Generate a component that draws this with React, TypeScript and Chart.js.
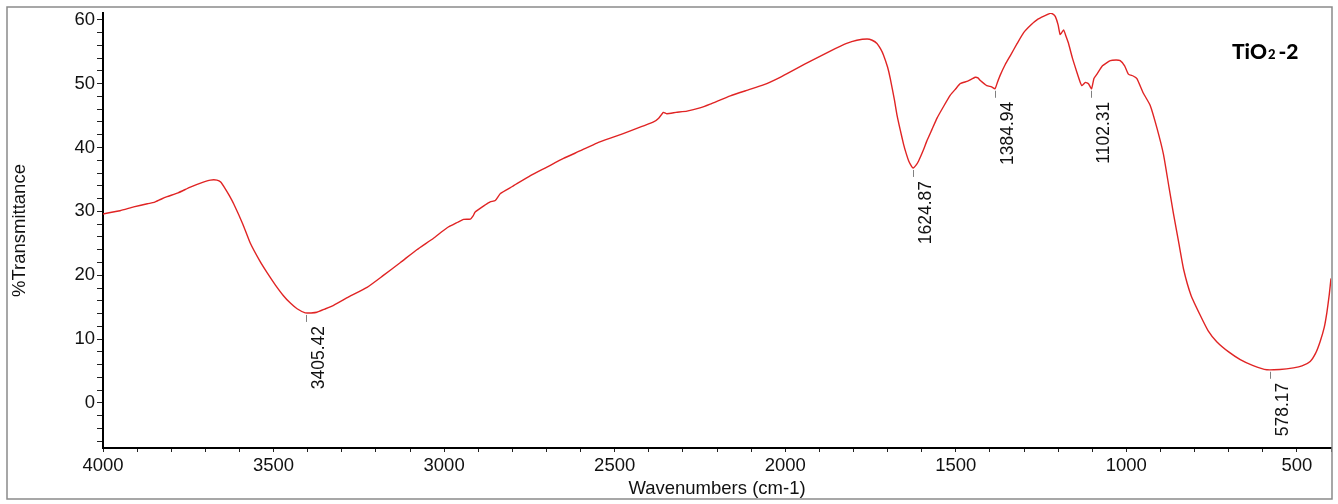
import React, { useEffect, useRef } from "react";
import { Chart, registerables } from "chart.js";

Chart.register(...registerables);

// Wavenumber (cm-1), high to low
const wavenumbers = [
  4000, 3950, 3910, 3870, 3850, 3830, 3812, 3780, 3744, 3710, 3685, 3666, 3655, 3641, 3630, 3617,
  3590, 3568, 3540, 3519, 3495, 3471, 3450, 3431, 3407, 3390, 3373, 3350, 3324, 3280, 3226, 3180,
  3128, 3080, 3031, 2992, 2960, 2943, 2923, 2915, 2909, 2880, 2865, 2850, 2835, 2800, 2747, 2700,
  2650, 2600, 2552, 2500, 2454, 2420, 2386, 2371, 2357, 2347, 2320, 2288, 2250, 2220, 2161, 2110,
  2064, 2015, 1966, 1920, 1868, 1820, 1790, 1760, 1745, 1731, 1720, 1712, 1700, 1692, 1680, 1672,
  1663, 1653, 1645, 1638, 1630, 1625, 1617, 1609, 1595, 1585, 1570, 1555, 1535, 1516, 1500, 1487,
  1465, 1443, 1435, 1428, 1409, 1395, 1385, 1378, 1370, 1355, 1340, 1320, 1301, 1280, 1262, 1240,
  1223, 1215, 1208, 1200, 1194, 1184, 1178, 1170, 1158, 1145, 1135, 1130, 1120, 1111, 1102, 1095,
  1086, 1070, 1047, 1030, 1018, 1005, 994, 980, 969, 950, 930, 910, 891, 875, 862, 847,
  832, 810, 783, 760, 735, 700, 666, 630, 588, 550, 510, 485, 461, 445, 432, 420,
  412, 405, 400,
];

// %Transmittance at each wavenumber above
const transmittance = [
  29.6, 30.1, 30.7, 31.2, 31.4, 31.9, 32.3, 32.9, 33.8, 34.5, 34.9, 34.9, 34.6, 33.5, 32.5, 31.2,
  28.0, 25.0, 22.2, 20.4, 18.5, 16.8, 15.6, 14.75, 14.1, 14.1, 14.2, 14.7, 15.3, 16.6, 18.1, 19.9,
  22.0, 24.0, 25.8, 27.4, 28.3, 28.75, 28.8, 29.3, 29.9, 31.0, 31.5, 31.7, 32.8, 33.9, 35.6, 36.9,
  38.3, 39.5, 40.7, 41.7, 42.6, 43.3, 44.0, 44.6, 45.5, 45.3, 45.5, 45.7, 46.2, 46.8, 48.1, 49.0,
  49.8, 51.0, 52.4, 53.7, 55.1, 56.3, 56.8, 57.0, 56.8, 56.3, 55.4, 54.5, 52.6, 50.8, 47.5, 45.0,
  42.8, 40.5, 39.0, 37.9, 37.1, 36.8, 37.2, 37.9, 39.6, 41.0, 42.8, 44.6, 46.5, 48.2, 49.2, 50.0,
  50.4, 51.0, 50.9, 50.5, 49.7, 49.5, 49.2, 50.2, 51.3, 53.0, 54.4, 56.3, 58.0, 59.2, 60.0, 60.6,
  61.0, 60.9, 60.5, 59.2, 57.7, 58.4, 57.6, 56.4, 54.0, 51.8, 50.2, 49.7, 50.2, 50.0, 49.2, 50.8,
  51.5, 52.8, 53.6, 53.7, 53.6, 52.8, 51.5, 51.2, 50.8, 48.5, 46.6, 43.0, 38.9, 33.8, 29.7, 25.3,
  20.9, 16.8, 13.7, 11.3, 9.6, 8.0, 6.8, 5.9, 5.2, 5.25, 5.5, 5.8, 6.5, 7.8, 9.6, 11.8,
  14.2, 17.0, 19.5,
];

// Axis ticks
const xTicks = [
  4000, 3900, 3800, 3700, 3600, 3500, 3400, 3300, 3200, 3100, 3000, 2900, 2800, 2700, 2600, 2500,
  2400, 2300, 2200, 2100, 2000, 1900, 1800, 1700, 1600, 1500, 1400, 1300, 1200, 1100, 1000, 900,
  800, 700, 600, 500, 400,
];
const xTickLabels = [4000, 3500, 3000, 2500, 2000, 1500, 1000, 500];
const yTicks = [
  -6, -4, -2, 0, 2, 4, 6, 8, 10, 12, 14, 16, 18, 20, 22, 24, 26, 28, 30, 32, 34, 36, 38, 40, 42,
  44, 46, 48, 50, 52, 54, 56, 58, 60,
];
const yTickLabels = [0, 10, 20, 30, 40, 50, 60];

// Peak annotations
const peakWaves = [3405.42, 1624.87, 1384.94, 1102.31, 578.17];
const peakValues = [14.1, 36.8, 49.2, 49.2, 5.2];
const peakLabels = ["3405.42", "1624.87", "1384.94", "1102.31", "578.17"];

const FONT = '"Liberation Sans", Arial, sans-serif';
const TITLE_FONT = 'Lato, "DejaVu Sans", sans-serif';

export default function App() {
  const ref = useRef<HTMLCanvasElement>(null);

  useEffect(() => {
    if (!ref.current) return;

    const overlay = {
      id: "overlay",
      afterDraw(chart: any) {
        const ctx = chart.ctx as CanvasRenderingContext2D;
        const xs = chart.scales.x;
        const ys = chart.scales.y;
        ctx.save();
        // outer frame
        ctx.strokeStyle = "#8a8a8a";
        ctx.lineWidth = 1.5;
        ctx.strokeRect(7, 7, 1325, 492);

        // peak markers + labels
        peakWaves.forEach((w, i) => {
          const px = Math.round(xs.getPixelForValue(w)) + 0.5;
          const py = ys.getPixelForValue(peakValues[i]);
          ctx.strokeStyle = "#808080";
          ctx.lineWidth = 1;
          ctx.beginPath();
          ctx.moveTo(px, py + 2);
          ctx.lineTo(px, py + 9);
          ctx.stroke();
          ctx.save();
          ctx.translate(px + 17, py + 13);
          ctx.rotate(-Math.PI / 2);
          ctx.font = `17.5px ${FONT}`;
          ctx.fillStyle = "#111";
          ctx.textAlign = "right";
          ctx.textBaseline = "alphabetic";
          ctx.fillText(peakLabels[i], 0, 0);
          ctx.restore();
        });

        // sample label TiO2 -2
        let tx = 1232;
        const ty = 59;
        ctx.fillStyle = "#000";
        ctx.textAlign = "left";
        ctx.textBaseline = "alphabetic";
        ctx.font = `900 21px ${TITLE_FONT}`;
        ctx.fillText("TiO", tx, ty);
        tx += ctx.measureText("TiO").width + 1;
        ctx.font = `900 13px ${TITLE_FONT}`;
        ctx.fillText("2", tx, ty);
        tx += ctx.measureText("2").width + 3;
        ctx.font = `900 21px ${TITLE_FONT}`;
        ctx.fillText("-2", tx, ty);
        ctx.restore();
      },
    };

    const chart = new Chart(ref.current, {
      type: "line",
      data: {
        datasets: [
          {
            label: "TiO2-2",
            data: wavenumbers.map((w, i) => ({ x: w, y: transmittance[i] })),
            borderColor: "#e02424",
            borderWidth: 1.4,
            pointRadius: 0,
            tension: 0.15,
            fill: false,
          },
        ],
      },
      options: {
        responsive: false,
        animation: false,
        devicePixelRatio: 1,
        layout: { padding: { left: 0, right: 7, top: 7, bottom: 0 } },
        plugins: { legend: { display: false }, tooltip: { enabled: false } },
        scales: {
          x: {
            type: "linear",
            reverse: true,
            min: 400,
            max: 4000,
            afterBuildTicks: (s: any) => {
              s.ticks = xTicks.map((v) => ({ value: v }));
            },
            afterFit: (s: any) => {
              s.height = 56;
            },
            ticks: {
              autoSkip: false,
              maxRotation: 0,
              padding: 3,
              color: "#111",
              font: { family: FONT, size: 18.5 },
              callback: (v: any) => (xTickLabels.includes(Number(v)) ? String(v) : ""),
            },
            grid: {
              drawOnChartArea: false,
              drawTicks: true,
              tickLength: 4,
              tickColor: "#222",
              tickWidth: 1,
            },
            border: { display: true, color: "#000", width: 2 },
            title: {
              display: true,
              text: "Wavenumbers (cm-1)",
              color: "#111",
              font: { family: FONT, size: 18.5 },
              padding: { top: 0, bottom: 4 },
            },
          },
          y: {
            type: "linear",
            min: -7.05,
            max: 61.05,
            afterBuildTicks: (s: any) => {
              s.ticks = yTicks.map((v) => ({ value: v }));
            },
            afterFit: (s: any) => {
              s.width = 103;
            },
            ticks: {
              autoSkip: false,
              padding: 2,
              color: "#111",
              font: { family: FONT, size: 18.5 },
              callback: (v: any) => (yTickLabels.includes(Number(v)) ? String(v) : ""),
            },
            grid: {
              drawOnChartArea: false,
              drawTicks: true,
              tickLength: 6,
              tickColor: "#222",
              tickWidth: 1,
            },
            border: { display: true, color: "#000", width: 2 },
            title: {
              display: true,
              text: "%Transmittance",
              color: "#111",
              font: { family: FONT, size: 18.5 },
              padding: { top: 9, bottom: 0 },
            },
          },
        },
      },
      plugins: [overlay],
    });

    return () => chart.destroy();
  }, []);

  return (
    <div style={{ position: "absolute", left: 0, top: 0, width: 1338, height: 504, background: "#fff" }}>
      <canvas ref={ref} width={1338} height={504} style={{ display: "block" }} />
    </div>
  );
}
